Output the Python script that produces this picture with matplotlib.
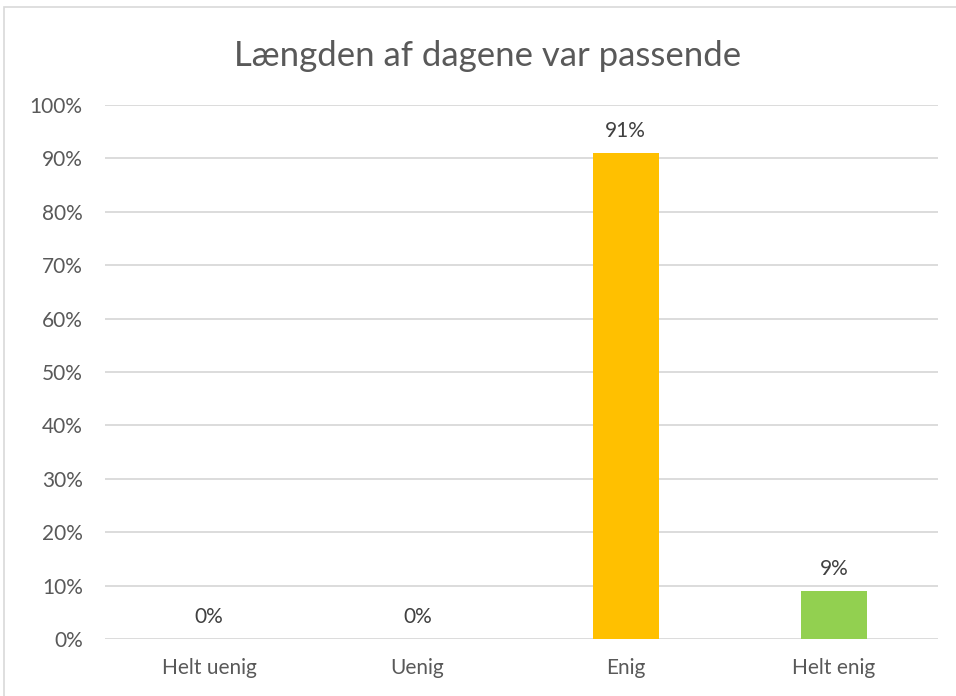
import matplotlib.pyplot as plt
from matplotlib.patches import Rectangle

categories = ["Helt uenig", "Uenig", "Enig", "Helt enig"]
values = [0, 0, 91, 9]
colors = ["#4472C4", "#ED7D31", "#FFC000", "#92D050"]
yticks = list(range(0, 101, 10))

plt.rcParams["font.family"] = ["Lato", "DejaVu Sans"]
txt = "#595959"

fig = plt.figure(figsize=(9.56, 6.96), dpi=100)
ax = fig.add_axes([0.1098, 0.0819, 0.8714, 0.7672])

x = range(len(categories))
ax.bar(x, values, width=0.317, color=colors, zorder=3)
for i, v in zip(x, values):
    ax.text(i, v + 2.3, f"{v}%", ha="center", va="bottom", fontsize=15, color="#404040")

ax.set_xlim(-0.5, len(categories) - 0.5)
ax.set_ylim(0, 100)
ax.set_yticks(yticks)
ax.set_yticklabels([f"{t}%" for t in yticks])
ax.set_xticks(list(x))
ax.set_xticklabels(categories)
ax.tick_params(length=0, labelsize=15, colors=txt)
ax.tick_params(axis="x", pad=14)
ax.tick_params(axis="y", pad=16)
ax.grid(axis="y", color="#D9D9D9", linewidth=1.3, zorder=0)
for s in ax.spines.values():
    s.set_visible(False)

fig.text(0.51, 0.92, "Længden af dagene var passende", ha="center", va="center",
         fontsize=25, color=txt)

fig.patches.append(Rectangle((0.004, -0.01), 1.1, 1.0, transform=fig.transFigure,
                             fill=False, edgecolor="#D9D9D9", linewidth=1.2))

fig.savefig("out.png", dpi=100)
